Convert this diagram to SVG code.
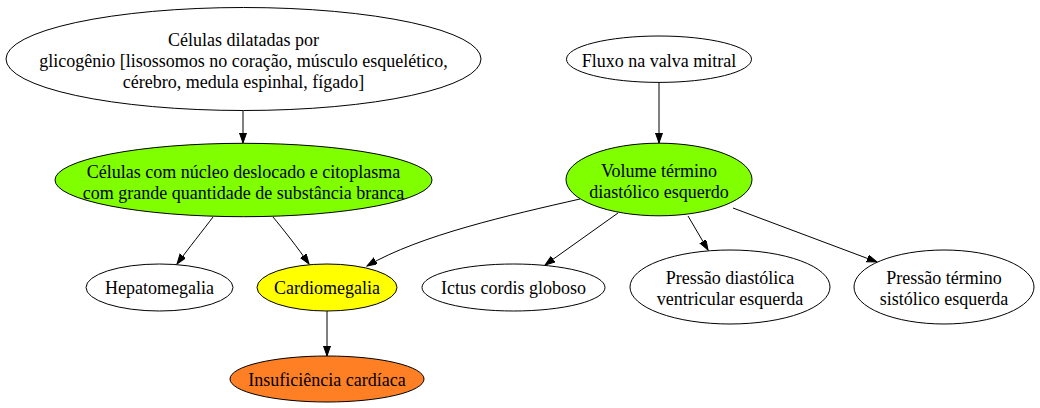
<svg xmlns="http://www.w3.org/2000/svg" width="1040" height="408" viewBox="0 0 1040 408">
<style>
.n ellipse{stroke:#000;stroke-width:1}
.t{font-family:"Liberation Serif","Times New Roman",serif;font-size:18px;fill:#000;text-anchor:middle}
.e path{fill:none;stroke:#000;stroke-width:1;marker-end:url(#ah)}
</style>
<defs>
<marker id="ah" markerUnits="userSpaceOnUse" markerWidth="11" markerHeight="8" refX="10" refY="3.5" orient="auto">
<path d="M0,0 L10,3.5 L0,7 z" fill="#000" stroke="#000" stroke-width="1"/>
</marker>
</defs>
<rect width="1040" height="408" fill="#fff"/>
<g id="connectors" class="e">
<path d="M243,111 L243,143"/>
<path d="M659,82 L659,143"/>
<path d="M213,217 C204,229 188,249 177,264"/>
<path d="M273,217 C283,229 298,248 309,264"/>
<path d="M580,199 C510,215 420,235 367,266"/>
<path d="M618,213 L545,265"/>
<path d="M688,216 L708,250"/>
<path d="M733,208 L877,262"/>
<path d="M327,311 L327,356"/>
</g>
<g id="n_celulas_dilatadas" class="n">
<ellipse cx="243.5" cy="59" rx="237.5" ry="51.5" fill="#fff"/>
<text class="t" x="243.5" y="45.5">Células dilatadas por</text>
<text class="t" x="243.5" y="66.8">glicogênio [lisossomos no coração, músculo esquelético,</text>
<text class="t" x="243.5" y="87.5">cérebro, medula espinhal, fígado]</text>
</g>
<g id="n_celulas_nucleo" class="n">
<ellipse cx="243.5" cy="180" rx="188.5" ry="36.7" fill="#7fff00"/>
<text class="t" x="243.5" y="177.7">Células com núcleo deslocado e citoplasma</text>
<text class="t" x="243.5" y="199">com grande quantidade de substância branca</text>
</g>
<g id="n_fluxo" class="n">
<ellipse cx="659" cy="59.2" rx="92.5" ry="23.2" fill="#fff"/>
<text class="t" x="659" y="66.5">Fluxo na valva mitral</text>
</g>
<g id="n_volume" class="n">
<ellipse cx="659" cy="179.5" rx="93" ry="36.3" fill="#7fff00"/>
<text class="t" x="659" y="176.7">Volume término</text>
<text class="t" x="659" y="198.3">diastólico esquerdo</text>
</g>
<g id="n_hepatomegalia" class="n">
<ellipse cx="159.5" cy="287.5" rx="73.5" ry="23.5" fill="#fff"/>
<text class="t" x="159.5" y="294">Hepatomegalia</text>
</g>
<g id="n_cardiomegalia" class="n">
<ellipse cx="327" cy="287.5" rx="70" ry="23.5" fill="#ffff00"/>
<text class="t" x="327" y="294">Cardiomegalia</text>
</g>
<g id="n_ictus" class="n">
<ellipse cx="513.5" cy="287.5" rx="91.5" ry="23.5" fill="#fff"/>
<text class="t" x="513.5" y="294">Ictus cordis globoso</text>
</g>
<g id="n_pressao_diastolica" class="n">
<ellipse cx="730" cy="287" rx="100" ry="37" fill="#fff"/>
<text class="t" x="730" y="283.5">Pressão diastólica</text>
<text class="t" x="730" y="304.5">ventricular esquerda</text>
</g>
<g id="n_pressao_termino" class="n">
<ellipse cx="944" cy="287" rx="90" ry="37" fill="#fff"/>
<text class="t" x="944" y="283.5">Pressão término</text>
<text class="t" x="944" y="304.5">sistólico esquerda</text>
</g>
<g id="n_insuficiencia" class="n">
<ellipse cx="327" cy="379" rx="97" ry="23" fill="#ff7f24"/>
<text class="t" x="327" y="386">Insuficiência cardíaca</text>
</g>
</svg>
